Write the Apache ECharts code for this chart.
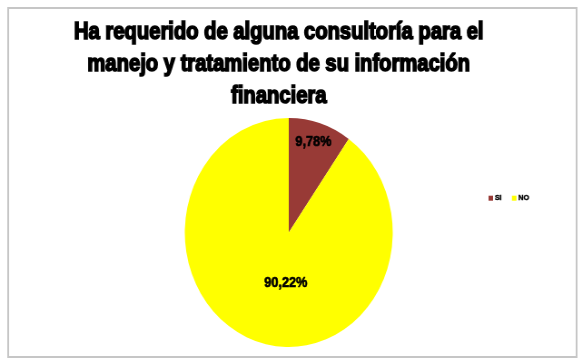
<!DOCTYPE html>
<html>
<head>
<meta charset="utf-8">
<script src="https://cdn.jsdelivr.net/npm/echarts@6/dist/echarts.min.js"></script>
<style>
  html, body { margin: 0; padding: 0; background: #ffffff; overflow: hidden; }
  #wrap { width: 580px; height: 360px; overflow: hidden; position: relative; }
  /* the whole chart is drawn slightly narrower than tall */
  #chart { width: 639px; height: 360px; transform: scaleX(0.908); transform-origin: 0 0; }
</style>
</head>
<body>
<div id="wrap"><div id="chart"></div></div>
<script>
// Survey answers (percent of respondents)
const categories = ['SI', 'NO'];
const percentages = [9.78, 90.22];
const titleLines = [
  'Ha requerido de alguna consultoría para el',
  'manejo y tratamiento de su información',
  'financiera'
];

const sliceColors = ['#983a36', '#ffff00'];
const titleFont = 'bold 23px "Liberation Sans", Arial, sans-serif';

// squeeze the heading so the first line spans the target width
const probe = document.createElement('canvas').getContext('2d');
probe.font = titleFont;
const titleScale = 451 / probe.measureText(titleLines[0]).width;

const labelOffsets = [[9, -33], [15, -7]];

const chart = echarts.init(document.getElementById('chart'), null, { renderer: 'canvas' });

chart.setOption({
  backgroundColor: '#ffffff',
  animation: false,
  color: sliceColors,
  legend: {
    data: categories,
    orient: 'horizontal',
    left: 533,
    top: 189,
    itemWidth: 5,
    itemHeight: 5,
    itemGap: 11,
    icon: 'rect',
    textStyle: {
      color: '#000',
      fontSize: 8,
      fontWeight: 'bold',
      fontFamily: '"Liberation Sans", Arial, sans-serif',
      textBorderColor: '#000',
      textBorderWidth: 0.4,
      padding: [0, 0, 0, -3]
    }
  },
  graphic: [
    {
      type: 'rect',
      shape: { x: 9, y: 8, width: 626, height: 349 },
      style: { fill: 'none', stroke: '#c6c6c6', lineWidth: 2 },
      silent: true
    }
  ].concat(titleLines.map((line, i) => ({
    type: 'text',
    x: 307,
    y: 33 + i * 32,
    scaleX: titleScale,
    style: {
      text: line,
      font: titleFont,
      fill: '#000',
      stroke: '#000',
      lineWidth: 1.6,
      textAlign: 'center',
      textVerticalAlign: 'middle',
      verticalAlign: 'middle'
    },
    silent: true
  }))),
  series: [{
    type: 'pie',
    center: [318, 232.5],
    radius: [0, 114.5],
    startAngle: 90,
    clockwise: true,
    avoidLabelOverlap: false,
    itemStyle: { borderWidth: 0 },
    label: {
      show: true,
      position: 'inside',
      color: '#000',
      fontSize: 14,
      fontWeight: 'bold',
      fontFamily: '"Liberation Sans", Arial, sans-serif',
      textBorderColor: '#000',
      textBorderWidth: 0.6,
      formatter: p => p.value.toFixed(2).replace('.', ',') + '%'
    },
    labelLine: { show: false },
    emphasis: { disabled: true },
    data: categories.map((name, i) => ({
      name: name,
      value: percentages[i],
      label: { offset: labelOffsets[i] }
    }))
  }]
});
</script>
</body>
</html>
